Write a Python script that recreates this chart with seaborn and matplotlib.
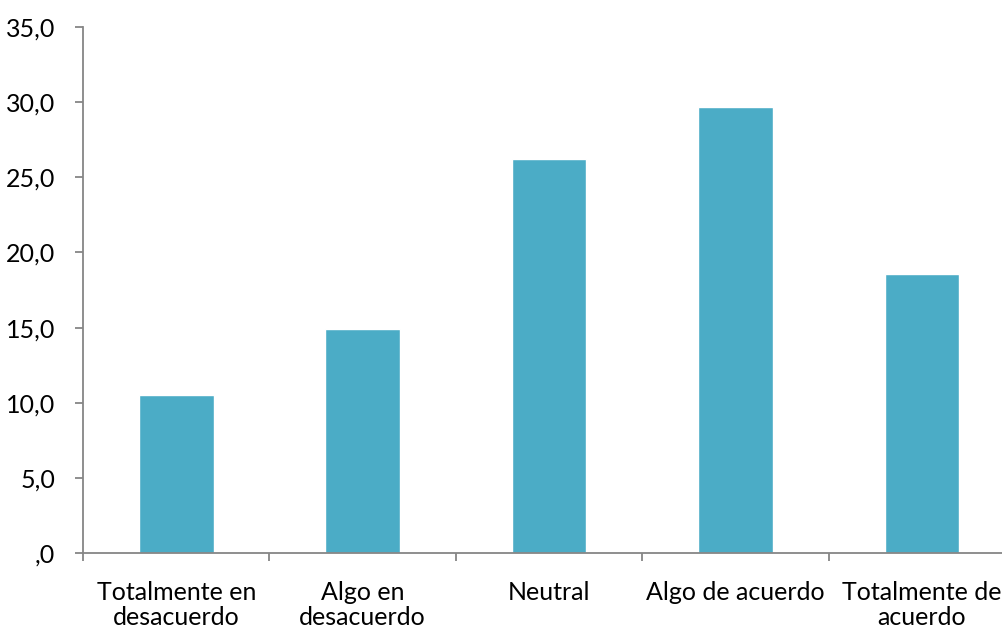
import matplotlib

matplotlib.use("Agg")
import matplotlib.pyplot as plt
import pandas as pd
import seaborn as sns
from matplotlib.ticker import FixedLocator, FuncFormatter, MultipleLocator

categories = [
    "Totalmente en\ndesacuerdo",
    "Algo en\ndesacuerdo",
    "Neutral",
    "Algo de acuerdo",
    "Totalmente de\nacuerdo",
]
values = [10.5, 14.9, 26.2, 29.7, 18.6]

BAR_COLOR = "#4BACC6"
AXIS_COLOR = "#868686"

sns.set_style("white")
plt.rcParams["font.family"] = ["Lato", "DejaVu Sans"]

df = pd.DataFrame({"cat": categories, "val": values})

fig = plt.figure(figsize=(10.03, 6.30), dpi=100)
ax = fig.add_axes([0.0828, 0.1222, 0.9292, 0.8348])
sns.barplot(data=df, x="cat", y="val", color=BAR_COLOR, width=0.4,
            saturation=1, ax=ax)

ax.set_xlim(-0.5, len(categories) - 0.5)
ax.set_ylim(0, 35)
ax.yaxis.set_major_locator(MultipleLocator(5))


def fmt(v, _):
    s = f"{v:.1f}".replace(".", ",")
    return s[1:] if s.startswith("0,") else s


ax.yaxis.set_major_formatter(FuncFormatter(fmt))
ax.set_xlabel("")
ax.set_ylabel("")

for side in ["top", "right"]:
    ax.spines[side].set_visible(False)
for side in ["left", "bottom"]:
    ax.spines[side].set_color(AXIS_COLOR)
    ax.spines[side].set_linewidth(1.3)

# category boundary ticks on x axis
ax.xaxis.set_minor_locator(FixedLocator([i - 0.5 for i in range(len(categories) + 1)]))
ax.tick_params(axis="x", which="major", length=0, pad=20, labelsize=18,
               labelcolor="black")
ax.tick_params(axis="x", which="minor", length=6, width=1.3, color=AXIS_COLOR,
               direction="out", bottom=True)
ax.tick_params(axis="y", which="major", length=6, width=1.3, color=AXIS_COLOR,
               direction="out", left=True, labelsize=18, pad=14,
               labelcolor="black")
for lab in ax.get_xticklabels():
    lab.set_verticalalignment("top")
    lab.set_linespacing(1.12)

fig.savefig("out.png", dpi=100)
